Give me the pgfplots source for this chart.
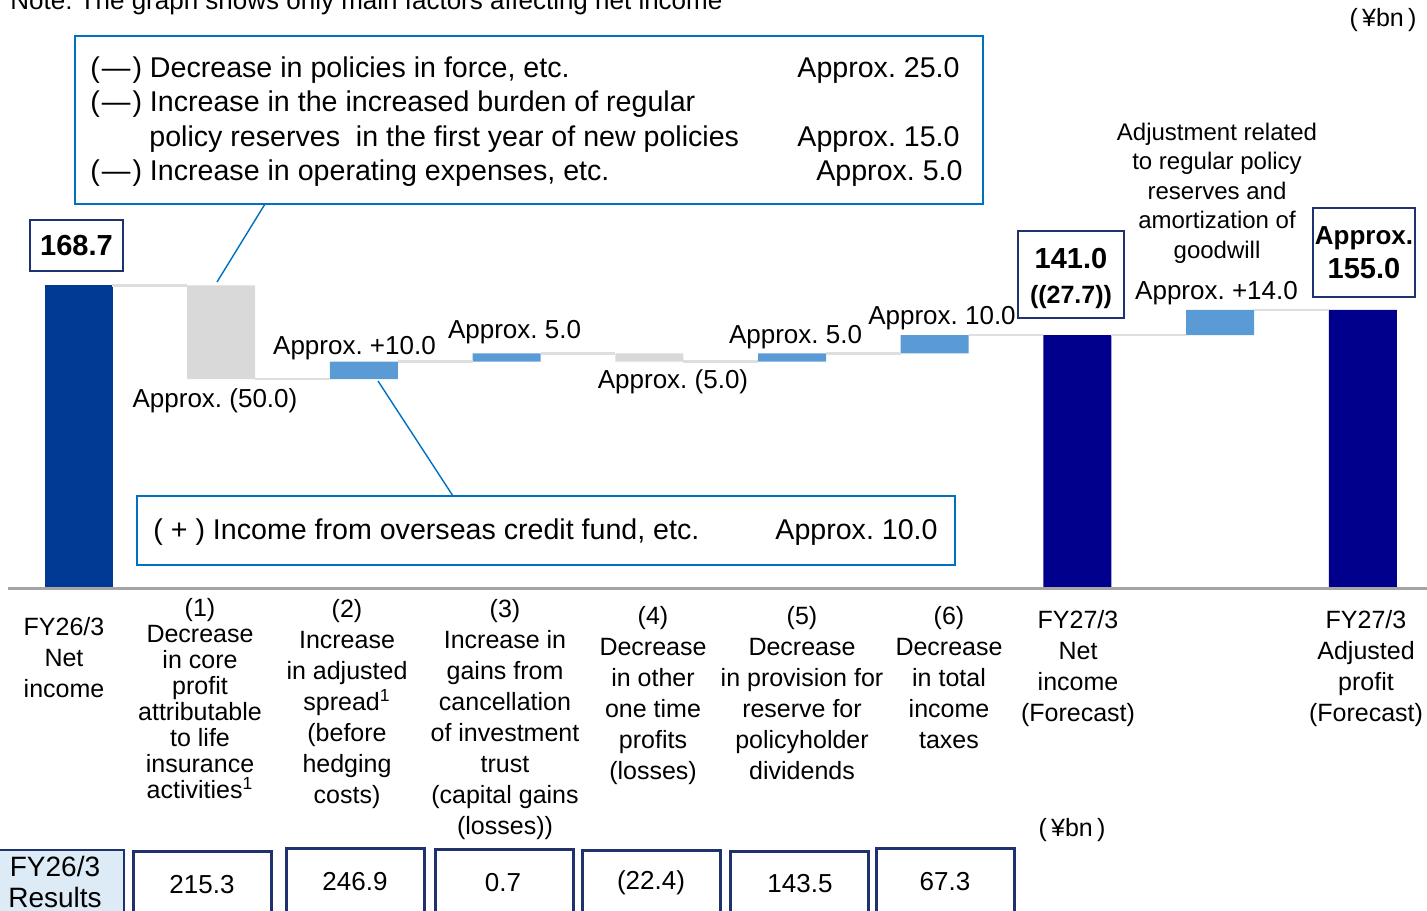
\documentclass[border=0pt]{standalone}
\usepackage{fontspec}
\setmainfont{Liberation Sans}
\usepackage{pgfplots}
\usepackage{pgfplotstable}
\pgfplotsset{compat=1.18}

\definecolor{firstblue}{RGB}{0,58,148}
\definecolor{navybar}{RGB}{0,0,140}
\definecolor{posblue}{RGB}{91,155,213}
\definecolor{neggray}{RGB}{217,217,217}
\definecolor{conngray}{RGB}{222,222,222}
\definecolor{basegray}{RGB}{165,165,165}
\definecolor{callblue}{RGB}{0,112,192}
\definecolor{boxnavy}{RGB}{31,50,110}
\definecolor{tblfill}{RGB}{221,235,247}

\newcommand\fs[2]{\fontsize{#1}{#2}\selectfont}
\newcommand\mns{(\kern0.07em—\kern0.07em)}

\tikzset{
  ctext/.style={inner sep=0pt, font=\fs{14.3}{17}},
  vl/.style={inner sep=0pt, font=\fs{13}{15}},
  cat/.style={anchor=north, inner sep=0pt, align=center, font=\fs{12.5}{15.5}},
  tv/.style={inner sep=0pt, font=\fs{13}{15}}}

% waterfall: invisible base + visible segment
\pgfplotstableread{
x base first tot neg pos
0 0 168.7 0 0 0
1 116.5 0 0 52.2 0
2 116.5 0 0 0 9.7
3 126.2 0 0 0 4.6
4 126.2 0 0 4.6 0
5 126.2 0 0 0 4.6
6 130.8 0 0 0 10.2
7 0 0 141.0 0 0
8 141.0 0 0 0 14.0
9 0 0 155.0 0 0
}\wf

\pgfplotsset{frame/.style={width=713.5pt, height=455pt, scale only axis, hide axis,
  clip=false, at={(0,0)}, anchor=south west}}

\begin{document}
\frenchspacing
\begin{tikzpicture}
% ---------------- bars ----------------
\begin{axis}[frame, xmin=-0.5501, xmax=9.4499, ymin=-179.5, ymax=327.8,
  ybar stacked, bar width=34pt]
\addplot[draw=none, fill=none] table[x=x, y=base] {\wf};
\addplot[draw=none, fill=firstblue] table[x=x, y=first] {\wf};
\addplot[draw=none, fill=navybar] table[x=x, y=tot] {\wf};
\addplot[draw=none, fill=neggray] table[x=x, y=neg] {\wf};
\addplot[draw=none, fill=posblue] table[x=x, y=pos] {\wf};
\end{axis}
% ---------------- connectors and baseline ----------------
\begin{axis}[frame, xmin=-0.5501, xmax=9.4499, ymin=-179.5, ymax=327.8]
\addplot[conngray, line width=1.3pt] coordinates {(0.238,168.7) (0.762,168.7)};
\addplot[conngray, line width=1.3pt] coordinates {(1.238,116.5) (1.762,116.5)};
\addplot[conngray, line width=1.3pt] coordinates {(2.238,126.2) (2.762,126.2)};
\addplot[conngray, line width=1.3pt] coordinates {(3.238,130.8) (3.762,130.8)};
\addplot[conngray, line width=1.3pt] coordinates {(4.238,126.2) (4.762,126.2)};
\addplot[conngray, line width=1.3pt] coordinates {(5.238,130.8) (5.762,130.8)};
\addplot[conngray, line width=1.3pt] coordinates {(6.238,141.0) (6.762,141.0)};
\addplot[conngray, line width=1.3pt] coordinates {(7.238,141.0) (7.762,141.0)};
\addplot[conngray, line width=1.3pt] coordinates {(8.238,155.0) (8.762,155.0)};
\addplot[basegray, line width=1.5pt] coordinates {(-0.494,0) (9.4499,0)};
\end{axis}
% ---------------- annotations ----------------
\begin{axis}[frame, xmin=0, xmax=1427, ymin=0, ymax=910, y dir=reverse]
\node[anchor=base west, inner sep=0pt, font=\fs{13}{15}] at (axis cs:10,9.5)
  {Note: The graph shows only main factors affecting net income};
\node[inner sep=0pt, font=\fs{12.5}{15}] at (axis cs:1383,20) {(\,¥bn\,)};

% callout 1
\draw[callblue, line width=0.7pt] (axis cs:75,36) rectangle (axis cs:983,204);
\draw[callblue, line width=0.7pt] (axis cs:265,204) -- (axis cs:217,282);
\node[ctext, anchor=west] at (axis cs:90,70) {\mns\ Decrease in policies in force, etc.};
\node[ctext, anchor=west] at (axis cs:90,104) {\mns\ Increase in the increased burden of regular};
\node[ctext, anchor=west] at (axis cs:149,139) {policy reserves\ \ in the first year of new policies};
\node[ctext, anchor=west] at (axis cs:90,173) {\mns\ Increase in operating expenses, etc.};
\node[ctext, anchor=east] at (axis cs:960,70) {Approx. 25.0};
\node[ctext, anchor=east] at (axis cs:960,139) {Approx. 15.0};
\node[ctext, anchor=east] at (axis cs:963,173) {Approx. 5.0};

% callout 2
\draw[callblue, line width=0.7pt] (axis cs:137,496) rectangle (axis cs:955,565);
\draw[callblue, line width=0.7pt] (axis cs:453,496) -- (axis cs:378,381);
\node[ctext, anchor=west] at (axis cs:153,532) {(\;+\;)\ Income from overseas credit fund, etc.};
\node[ctext, anchor=east] at (axis cs:938,532) {Approx. 10.0};

% value labels
\node[vl] at (axis cs:215,401) {Approx. (50.0)};
\node[vl] at (axis cs:354.5,348) {Approx. +10.0};
\node[vl] at (axis cs:514.5,332.5) {Approx. 5.0};
\node[vl] at (axis cs:673,381.5) {Approx. (5.0)};
\node[vl] at (axis cs:795.5,337) {Approx. 5.0};
\node[vl] at (axis cs:942,318) {Approx. 10.0};
\node[vl] at (axis cs:1216.5,293.5) {Approx. +14.0};
\node[inner sep=0pt, align=center, font=\fs{12}{14.75}] at (axis cs:1217,193)
  {Adjustment related\\to regular policy\\reserves and\\amortization of\\goodwill};

% boxed totals
\draw[boxnavy, line width=1.2pt] (axis cs:30,220) rectangle (axis cs:123,271);
\node[inner sep=0pt, font=\bfseries\fs{14.5}{17}] at (axis cs:76.5,246) {168.7};
\draw[boxnavy, line width=1.2pt] (axis cs:1018,231) rectangle (axis cs:1124,318);
\node[inner sep=0pt, align=center, font=\bfseries\fs{14.5}{17.5}] at (axis cs:1071,278.5)
  {141.0\\{\fs{12.5}{17.5}((27.7))}};
\draw[boxnavy, line width=1.2pt] (axis cs:1313,208) rectangle (axis cs:1415,297);
\node[inner sep=0pt, align=center, font=\bfseries\fs{13}{17}] at (axis cs:1364,253)
  {Approx.\\{\fs{14.5}{17}155.0}};

% category labels
\node[cat] at (axis cs:64,617) {FY26/3\\Net\\income};
\node[cat, font=\fs{12.5}{13}] at (axis cs:200,598) {(1)\\Decrease\\in core\\profit\\attributable\\to life\\insurance\\activities\textsuperscript{1}};
\node[cat] at (axis cs:347,599) {(2)\\Increase\\in adjusted\\spread\textsuperscript{1}\\(before\\hedging\\costs)};
\node[cat] at (axis cs:505,599) {(3)\\Increase in\\gains from\\cancellation\\of investment\\trust\\(capital gains\\(losses))};
\node[cat] at (axis cs:653,606) {(4)\\Decrease\\in other\\one time\\profits\\(losses)};
\node[cat] at (axis cs:802,606) {(5)\\Decrease\\in provision for\\reserve for\\policyholder\\dividends};
\node[cat] at (axis cs:949,606) {(6)\\Decrease\\in total\\income\\taxes};
\node[cat] at (axis cs:1078,610) {FY27/3\\Net\\income\\(Forecast)};
\node[cat] at (axis cs:1366,610) {FY27/3\\Adjusted\\profit\\(Forecast)};
\node[inner sep=0pt, font=\fs{12.5}{15}] at (axis cs:1072,830) {(\,¥bn\,)};

% results table
\draw[boxnavy, line width=1pt, fill=tblfill] (axis cs:-2,850) rectangle (axis cs:124,935);
\node[inner sep=0pt, align=center, font=\fs{14}{15.5}] at (axis cs:55,881.5) {FY26/3\\Results};
\draw[boxnavy, line width=1.5pt] (axis cs:133,851) rectangle (axis cs:271,935);
\draw[boxnavy, line width=1.5pt] (axis cs:286,848) rectangle (axis cs:424,935);
\draw[boxnavy, line width=1.5pt] (axis cs:435,849) rectangle (axis cs:573,935);
\draw[boxnavy, line width=1.5pt] (axis cs:582,850) rectangle (axis cs:720,935);
\draw[boxnavy, line width=1.5pt] (axis cs:730,851) rectangle (axis cs:868,935);
\draw[boxnavy, line width=1.5pt] (axis cs:876,848) rectangle (axis cs:1014,935);
\node[tv] at (axis cs:202,885) {215.3};
\node[tv] at (axis cs:355,882) {246.9};
\node[tv] at (axis cs:503,883) {0.7};
\node[tv] at (axis cs:651,883) {(22.4)};
\node[tv] at (axis cs:800,884) {143.5};
\node[tv] at (axis cs:945,882) {67.3};
\end{axis}
\pgfresetboundingbox
\path[use as bounding box] (current axis.south west) rectangle (current axis.north east);
\end{tikzpicture}
\end{document}
